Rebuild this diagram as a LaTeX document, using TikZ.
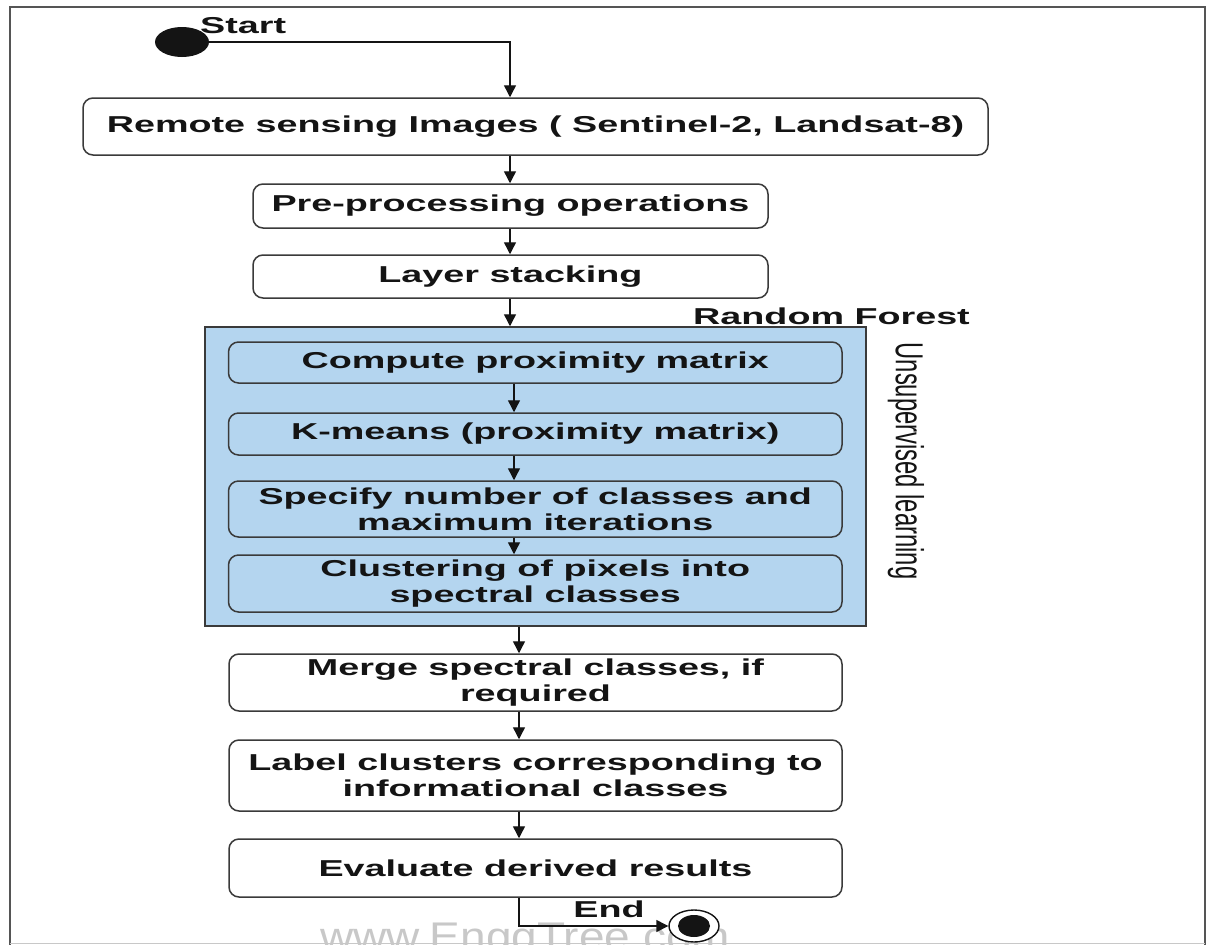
\documentclass[tikz,border=0pt]{standalone}
\usepackage{fontspec}
\usepackage{xcolor}
\usepackage{tikz}
\usetikzlibrary{arrows.meta,shapes.geometric}
\newfontfamily\stepfont[FakeStretch=1.64]{Liberation Sans}
\newfontfamily\sidefont{Liberation Sans}
\newfontfamily\markfont[FakeStretch=1.15]{Liberation Sans}
\definecolor{ink}{HTML}{141414}
\definecolor{edge}{HTML}{3A3A3A}
\definecolor{frameline}{HTML}{555555}
\definecolor{forestblue}{HTML}{B4D5EF}
\definecolor{wmark}{HTML}{C8C8C8}
\tikzset{
  stepbox/.style={draw=edge, line width=1.5pt, rounded corners=10pt, fill=white, inner sep=0pt,
    align=center, text=ink, font=\stepfont\bfseries\fontsize{23}{26}\selectfont},
  innerbox/.style={stepbox, fill=forestblue},
  flow/.style={draw=ink, line width=1.4pt, -{Triangle[length=12pt,width=12pt]}},
  lab/.style={text=ink, inner sep=0pt, font=\stepfont\bfseries\fontsize{23}{26}\selectfont},
}

\begin{document}
\begin{tikzpicture}[x=1pt, y=-1pt]
  \useasboundingbox (0,0) rectangle (1211,945);
  \clip (0,0) rectangle (1211,945);
  \fill[white] (0,0) rectangle (1211,945);

  \node[text=wmark, inner sep=0pt, anchor=base, font=\markfont\fontsize{40}{40}\selectfont] (site) at (525,950) {www.EnggTree.com};

  \draw[frameline, line width=2pt] (10,952) -- (10,7) -- (1205,7) -- (1205,952);
  \draw[wmark, line width=1pt] (10,943.5) -- (1205,943.5);

  \coordinate (topcol) at (510,0);
  \coordinate (midcol) at (514,0);
  \coordinate (lowcol) at (519,0);

  \node[ellipse, fill=ink, minimum width=54pt, minimum height=30pt, inner sep=0pt] (start) at (182,42) {};
  \node[lab, anchor=base west] (startlab) at (200,33) {Start};

  \node[stepbox, minimum width=905pt, minimum height=57pt] (remote) at (535.5,126.5) {Remote sensing Images ( Sentinel-2, Landsat-8)};
  \node[stepbox, minimum width=515pt, minimum height=44pt] (prep) at (510.5,206) {Pre-processing operations};
  \node[stepbox, minimum width=515pt, minimum height=43pt] (stack) at (510.5,276.5) {Layer stacking};

  \node[draw=edge, line width=1.5pt, fill=forestblue, minimum width=661pt, minimum height=299pt, inner sep=0pt] (forest) at (535.5,476.5) {};
  \node[lab, anchor=base west] (forestlab) at (693,324) {Random Forest};
  \node[rotate=-90, inner sep=0pt, text=ink] (unsup) at (906,461) {\scalebox{1}[1.64]{\sidefont\fontsize{23.8}{24}\selectfont Unsupervised learning}};

  \node[innerbox, minimum width=613.5pt, minimum height=41pt] (compute) at (535.25,362.5) {Compute proximity matrix};
  \node[innerbox, minimum width=613.5pt, minimum height=42pt] (kmeans) at (535.25,434) {K-means (proximity matrix)};
  \node[innerbox, minimum width=613.5pt, minimum height=56pt] (specify) at (535.25,509) {Specify number of classes and\\maximum iterations};
  \node[innerbox, minimum width=613.5pt, minimum height=57pt] (cluster) at (535.25,583.5) {Clustering of pixels into\\spectral classes};

  \node[stepbox, minimum width=613pt, minimum height=57pt] (merge) at (535.5,682.5) {Merge spectral classes, if\\required};
  \node[stepbox, minimum width=613pt, minimum height=71pt] (label) at (535.5,775.5) {Label clusters corresponding to\\informational classes};
  \node[stepbox, minimum width=613pt, minimum height=58pt] (evaluate) at (535.5,868) {Evaluate derived results};

  \node[ellipse, draw=ink, line width=1.4pt, fill=white, minimum width=50pt, minimum height=32pt, inner sep=0pt] (endring) at (694,926) {};
  \node[ellipse, fill=ink, minimum width=32pt, minimum height=22pt, inner sep=0pt] (enddot) at (endring.center) {};
  \node[lab, anchor=base] (endlab) at (609,917) {End};

  \draw[flow] (start.east) -| (remote.north -| topcol);
  \draw[flow] (remote.south -| topcol) -- (prep.north -| topcol);
  \draw[flow] (prep.south -| topcol) -- (stack.north -| topcol);
  \draw[flow] (stack.south -| topcol) -- (forest.north -| topcol);
  \foreach \a/\b in {compute/kmeans, kmeans/specify, specify/cluster}
    \draw[flow] (\a.south -| midcol) -- (\b.north -| midcol);
  \draw[flow] (forest.south -| lowcol) -- (merge.north -| lowcol);
  \foreach \a/\b in {merge/label, label/evaluate}
    \draw[flow] (\a.south -| lowcol) -- (\b.north -| lowcol);
  \draw[flow] (evaluate.south -| lowcol) |- (endring.west);
\end{tikzpicture}
\end{document}
